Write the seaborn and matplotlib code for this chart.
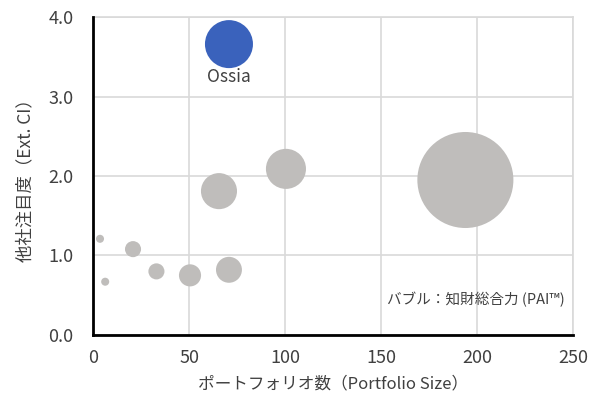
import pandas as pd
import matplotlib
matplotlib.use("Agg")
import matplotlib.pyplot as plt
import seaborn as sns

# bubble data
portfolio = [70.8, 194, 100.5, 65.6, 70.8, 50.5, 33, 20.8, 3.6, 6.3]
ext_ci = [3.66, 1.95, 2.09, 1.81, 0.82, 0.75, 0.80, 1.08, 1.21, 0.67]
pai = [25, 100, 17.4, 14.1, 7.3, 5.3, 2.8, 2.8, 0.7, 0.7]
company = ["Ossia", "", "", "", "", "", "", "", "", ""]

x_ticks = [0, 50, 100, 150, 200, 250]
y_ticks = [0.0, 1.0, 2.0, 3.0, 4.0]

df = pd.DataFrame({"portfolio": portfolio, "ext_ci": ext_ci, "pai": pai, "company": company})
df["group"] = ["focus" if c == "Ossia" else "other" for c in df["company"]]

sns.set_theme(style="white")
plt.rcParams["font.family"] = ["Noto Sans CJK JP", "DejaVu Sans"]

fig = plt.figure(figsize=(5.93, 4.07), dpi=100)
ax = fig.add_axes([0.157, 0.177, 0.809, 0.781])

sns.scatterplot(data=df, x="portfolio", y="ext_ci", size="pai", hue="group",
                palette={"focus": "#3A62BC", "other": "#BFBDBB"},
                sizes=(0, 4780), size_norm=(0, 100), linewidth=0,
                alpha=1, legend=False, ax=ax, zorder=3)

ax.set_xlim(0, 250)
ax.set_ylim(0, 4.0)
ax.set_xticks(x_ticks)
ax.set_yticks(y_ticks)
ax.set_yticklabels([f"{v:.1f}" for v in y_ticks])
ax.grid(True, color="#D9D9D9", linewidth=1.2)
ax.set_axisbelow(True)

for side in ["top", "right"]:
    ax.spines[side].set_color("#D9D9D9")
    ax.spines[side].set_linewidth(1.2)
for side in ["left", "bottom"]:
    ax.spines[side].set_color("black")
    ax.spines[side].set_linewidth(2)
    ax.spines[side].set_zorder(4)

ax.tick_params(axis="x", length=0, labelsize=13, labelcolor="#404040", pad=10)
ax.tick_params(axis="y", length=0, labelsize=13, labelcolor="#404040", pad=14)

ax.set_xlabel("ポートフォリオ数（Portfolio Size）", fontsize=12, color="#404040", labelpad=6)
ax.set_ylabel("他社注目度（Ext. CI）", fontsize=12.5, color="#404040", labelpad=10)

# company label under the highlighted bubble
for _, row in df[df["company"] != ""].iterrows():
    ax.text(row["portfolio"], row["ext_ci"] - 0.42, row["company"],
            ha="center", va="center", fontsize=12.5, color="#404040")

ax.text(246, 0.45, "バブル：知財総合力 (PAI™)", ha="right", va="center",
        fontsize=10.5, color="#404040")

plt.savefig("out.png", dpi=100)
